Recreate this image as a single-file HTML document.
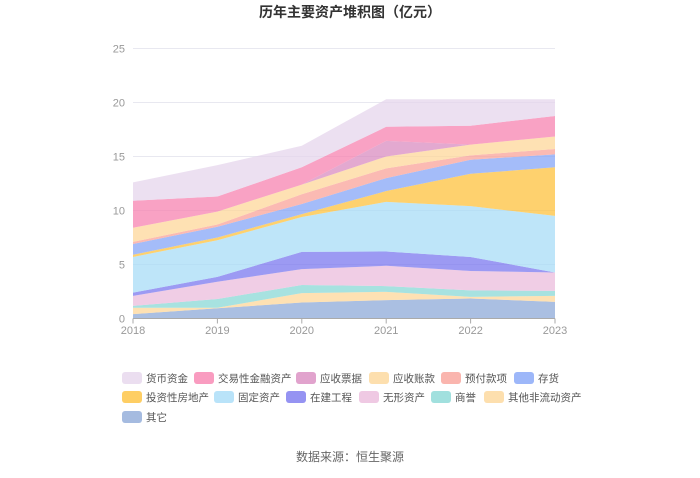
<!DOCTYPE html>
<html><head><meta charset="utf-8"><style>
body{margin:0;width:700px;height:473px;background:#fff;font-family:"Liberation Sans","Noto Sans CJK SC",sans-serif;overflow:hidden}
svg text{font-family:"Liberation Sans","Noto Sans CJK SC",sans-serif}
</style></head><body>
<svg id="c" width="700" height="473">
<text x="350" y="17" text-anchor="middle" font-size="14" font-weight="bold" fill="#333">历年主要资产堆积图（亿元）</text>
<g id="grid"></g><g id="areas"></g><g id="axes"></g><g id="legend"></g>
<text x="350" y="461" text-anchor="middle" font-size="12" fill="#666">数据来源：恒生聚源</text>
</svg>
<script>
const years=["2018","2019","2020","2021","2022","2023"];
const yTicks=[0,5,10,15,20,25];
const seriesNames=["其它","其他非流动资产","商誉","无形资产","在建工程","固定资产","投资性房地产","存货","预付款项","应收账款","应收票据","交易性金融资产","货币资金"];
const s_qita=[0.4,0.95,1.48,1.7,1.85,1.54];
const s_feiliudong=[0.6,0.05,0.87,0.77,0.15,0.56];
const s_shangyu=[0.17,0.8,0.75,0.53,0.6,0.46];
const s_wuxing=[0.93,1.6,1.47,1.88,1.8,1.7];
const s_zaijian=[0.3,0.45,1.6,1.32,1.3,0];
const s_guding=[3.3,3.4,3.23,4.6,4.7,5.24];
const s_touzi=[0.2,0.25,0.26,1.0,3.0,4.5];
const s_cunhuo=[1.0,1.0,0.94,1.2,1.3,1.2];
const s_yufu=[0.2,0.2,0.9,0.9,0.4,0.5];
const s_yingshou=[1.3,1.2,0.9,1.1,1.0,1.15];
const s_piaoju=[0,0,0,1.45,0,0];
const s_jiaoyi=[2.5,1.4,1.6,1.3,1.75,1.9];
const s_huobi=[1.7,2.9,2.0,2.55,2.45,1.55];
const seriesData=[s_qita,s_feiliudong,s_shangyu,s_wuxing,s_zaijian,s_guding,s_touzi,s_cunhuo,s_yufu,s_yingshou,s_piaoju,s_jiaoyi,s_huobi];
const colors=["#8eaad8","#fdd79a","#8ad8d6","#ebbcdc","#7b78ef","#a8dcf7","#fec23d","#85a5f7","#f9a39a","#fdd79a","#d98cc0","#f783b0","#e6d6ec"];
const legendOrder=[12,11,10,9,8,7,6,5,4,3,2,1,0];
const legendPos=[[122,378],[194,378],[296,378],[369,378],[441,378],[514,378],[122,397],[214,397],[286,397],[359,397],[431,397],[484,397],[122,417]];
const X0=133,X1=555,Y0=318.5,PX=10.8;
const xs=i=>X0+i*(X1-X0)/(years.length-1);
const ys=v=>Y0-v*PX;
const NS="http://www.w3.org/2000/svg";
function mk(t,a,p){const e=document.createElementNS(NS,t);for(const k in a)e.setAttribute(k,a[k]);p.appendChild(e);return e;}
const grid=document.getElementById('grid'),areas=document.getElementById('areas'),axes=document.getElementById('axes'),leg=document.getElementById('legend');
yTicks.forEach(t=>{
 const l=mk('line',{x1:X0,x2:X1,y1:ys(t),y2:ys(t),stroke:'#e8e8f0','stroke-width':1},grid);
 
 
 const tx=mk('text',{x:X0-8,y:ys(t)+4,'text-anchor':'end','font-size':11,fill:'#999'},axes);
 tx.textContent=t;
 
 
});
let base=years.map(()=>0);
seriesData.forEach((d,si)=>{
 const top=base.map((b,i)=>b+d[i]);
 let p='M'+top.map((v,i)=>xs(i)+','+ys(v)).join('L');
 for(let i=years.length-1;i>=0;i--)p+='L'+xs(i)+','+ys(base[i]);
 const a=mk('path',{d:p+'Z',fill:colors[si],'fill-opacity':0.75},areas);
 
 
 base=top;
});
const ax=mk('line',{x1:X0,x2:X1,y1:Y0,y2:Y0,stroke:'#aaa'},axes);


years.forEach((y,i)=>{
 mk('line',{x1:xs(i),x2:xs(i),y1:Y0,y2:Y0+5,stroke:'#aaa'},axes);
 const t=mk('text',{x:xs(i),y:334,'text-anchor':'middle','font-size':11,fill:'#999'},axes);
 t.textContent=y;
 
 
});
legendOrder.forEach((si,k)=>{
 const [x,y]=legendPos[k];
 const g=mk('g',{},leg);
 
 
 mk('rect',{x:x,y:y-6,width:20,height:12,rx:3,fill:colors[si],'fill-opacity':0.8},g);
 const t=mk('text',{x:x+24,y:y+4,'font-size':10.5,fill:'#555'},g);
 t.textContent=seriesNames[si];
});
</script>
</body></html>
